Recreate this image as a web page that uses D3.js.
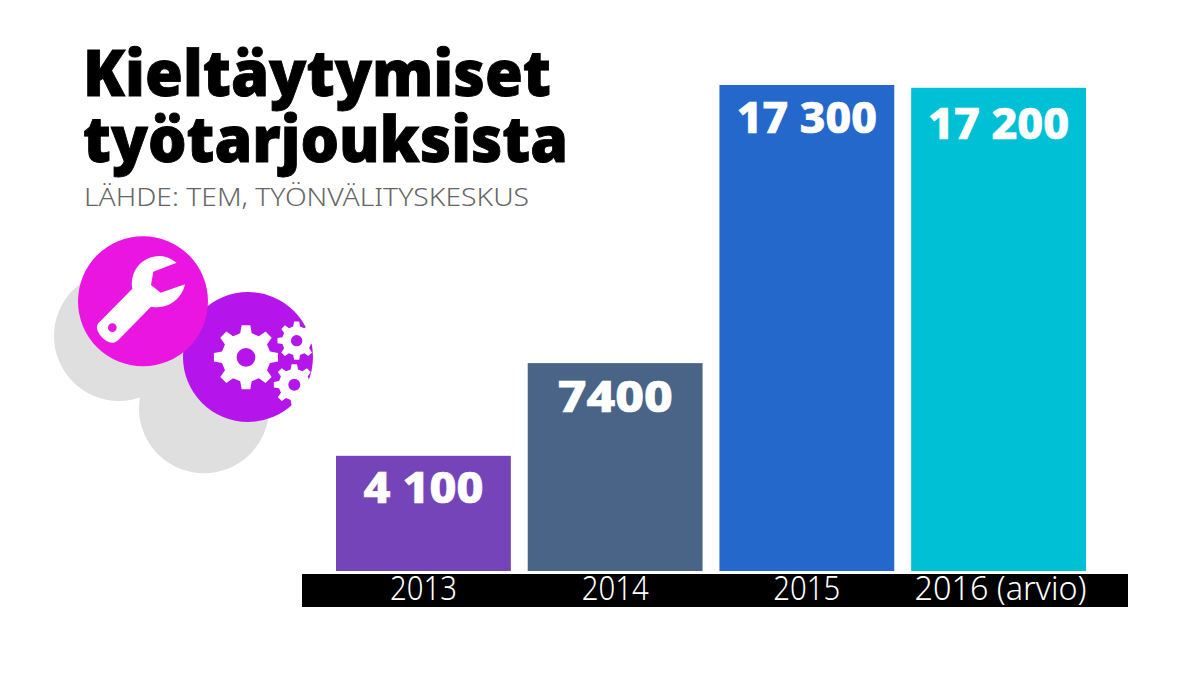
<!DOCTYPE html>
<html>
<head>
<meta charset="utf-8">
<script src="https://cdn.jsdelivr.net/npm/d3@7.9.0/dist/d3.min.js"></script>
<style>
  html, body { margin: 0; padding: 0; background: #fff; }
  svg { display: block; }
</style>
</head>
<body>
<svg id="chart" width="1198" height="674"></svg>
<script>
// data
const years = ["2013", "2014", "2015", "2016 (arvio)"];
const refusals = [4100, 7400, 17300, 17200];
const valueLabels = ["4 100", "7400", "17 300", "17 200"];
const barColors = ["#7544b8", "#4a6488", "#2468cc", "#00c0d6"];
const titleLines = ["Kieltäytymiset", "työtarjouksista"];
const sourceText = "LÄHDE: TEM, TYÖNVÄLITYSKESKUS";

// text fitting
const titleWidths = [468, 485];
const valueWidths = [120, 115, 140, 141];
const valueDrops = [47, 49, 48, 51];

const svg = d3.select("#chart");

const x = d3.scaleBand().domain(years).range([336, 1086]).paddingInner(0.088);
const y = d3.scaleLinear().domain([0, 17300]).range([571, 85]);

// bars
svg.selectAll(".bar")
  .data(years)
  .enter()
  .append("rect")
  .attr("class", "bar")
  .attr("x", d => x(d))
  .attr("width", x.bandwidth())
  .attr("y", (d, i) => y(refusals[i]))
  .attr("height", (d, i) => y(0) - y(refusals[i]))
  .attr("fill", (d, i) => barColors[i]);

// value labels
svg.selectAll(".value")
  .data(valueLabels)
  .enter()
  .append("text")
  .attr("class", "value")
  .text(d => d)
  .attr("x", (d, i) => x(years[i]) + x.bandwidth() / 2)
  .attr("y", (d, i) => y(refusals[i]) + valueDrops[i])
  .attr("text-anchor", "middle")
  .attr("fill", "#fff")
  .attr("stroke", "#fff")
  .attr("stroke-width", 0.7)
  .attr("font-family", "Noto Sans")
  .attr("font-weight", 800)
  .attr("font-size", 42)
  .attr("textLength", (d, i) => valueWidths[i])
  .attr("lengthAdjust", "spacingAndGlyphs");

// black axis band
svg.append("rect")
  .attr("x", 302).attr("y", 574)
  .attr("width", 826).attr("height", 33)
  .attr("fill", "#000");

svg.selectAll(".year")
  .data(years)
  .enter()
  .append("text")
  .attr("class", "year")
  .text(d => d)
  .attr("x", d => x(d) + x.bandwidth() / 2 + (d.length > 4 ? 2 : 0))
  .attr("y", 600)
  .attr("text-anchor", "middle")
  .attr("fill", "#fff")
  .attr("font-family", "Noto Sans")
  .attr("font-weight", 300)
  .attr("font-size", 33)
  .attr("textLength", d => d.length > 4 ? 172 : 67)
  .attr("lengthAdjust", "spacingAndGlyphs");

// title
svg.selectAll(".title")
  .data(titleLines)
  .enter()
  .append("text")
  .attr("class", "title")
  .text(d => d)
  .attr("x", 83)
  .attr("y", (d, i) => 96 + i * 66)
  .attr("fill", "#000")
  .attr("stroke", "#000")
  .attr("stroke-width", 0.9)
  .attr("font-family", "Noto Sans")
  .attr("font-weight", 900)
  .attr("font-size", 64)
  .attr("textLength", (d, i) => titleWidths[i])
  .attr("lengthAdjust", "spacingAndGlyphs");

svg.append("text")
  .text(sourceText)
  .attr("x", 84)
  .attr("y", 206)
  .attr("fill", "#666")
  .attr("font-family", "Noto Sans")
  .attr("font-weight", 300)
  .attr("font-size", 26.5)
  .attr("textLength", 445)
  .attr("lengthAdjust", "spacingAndGlyphs");

// icon, drawn in the coordinates of a 3x crop
const icon = svg.append("g").attr("transform", "translate(50,230) scale(0.3333)");

icon.append("circle").attr("cx", 207).attr("cy", 318).attr("r", 195).attr("fill", "#dfdfdf");
icon.append("circle").attr("cx", 462).attr("cy", 535).attr("r", 195).attr("fill", "#dfdfdf");
icon.append("circle").attr("cx", 594).attr("cy", 381).attr("r", 195).attr("fill", "#b515ea");
icon.append("circle").attr("cx", 279).attr("cy", 214).attr("r", 195).attr("fill", "#ea15e0");

icon.append("path")
  .attr("d", "M145 280 L247 176 C238 125 275 78 330 78 C348 78 365 88 380 98 L310 125 L303 165 L332 188 L405 163 C395 210 350 240 303 230 L205 330 C190 345 170 340 150 315 C140 300 138 290 145 280 Z")
  .attr("fill", "#fff");
icon.append("circle").attr("cx", 187).attr("cy", 293).attr("r", 13).attr("fill", "#ea15e0");

function gearPath(cx, cy, rOuter, rRoot, teeth) {
  const pts = [];
  const step = 2 * Math.PI / teeth;
  for (let i = 0; i < teeth; i++) {
    const a = i * step - Math.PI / 2;
    pts.push([a - step * 0.30, rRoot], [a - step * 0.17, rOuter], [a + step * 0.17, rOuter], [a + step * 0.30, rRoot]);
  }
  return d3.line()(pts.map(([a, r]) => [cx + r * Math.cos(a), cy + r * Math.sin(a)])) + "Z";
}

const gears = [
  { cx: 588, cy: 382, outer: 97, root: 74, hole: 28 },
  { cx: 740, cy: 332, outer: 58, root: 44, hole: 17 },
  { cx: 733, cy: 464, outer: 62, root: 47, hole: 18 }
];
gears.forEach(g => {
  icon.append("path").attr("d", gearPath(g.cx, g.cy, g.outer, g.root, 8)).attr("fill", "#fff");
  icon.append("circle").attr("cx", g.cx).attr("cy", g.cy).attr("r", g.hole).attr("fill", "#b515ea");
});
</script>
</body>
</html>
